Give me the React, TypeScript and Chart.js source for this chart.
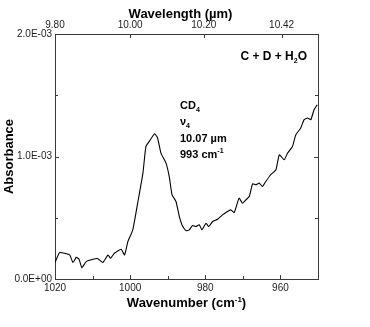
import React, { useEffect, useRef } from "react";
import { Chart, registerables } from "chart.js";

Chart.register(...registerables);

// ---- data ----
const wavenumbers = [
  1020.0, 1018.8, 1017.45, 1016.1, 1015.2, 1014.35, 1013.6, 1012.85, 1011.7, 1009.9,
  1008.6, 1007.3, 1005.9, 1005.2, 1004.2, 1002.4, 1001.5, 1000.6, 999.3, 998.0,
  996.6, 995.8, 994.9, 993.5, 992.7, 991.8, 990.45, 989.6, 988.85, 987.8,
  986.9, 986.0, 985.1, 984.25, 983.4, 982.5, 981.6, 980.9, 979.8, 979.1,
  978.05, 976.7, 975.4, 974.1, 973.2, 972.3, 971.0, 970.1, 969.2, 968.3,
  967.4, 966.5, 965.65, 964.8, 963.9, 962.6, 961.2, 960.3, 959.0, 958.1,
  956.8, 955.9, 954.6, 953.7, 952.8, 951.9, 951.05, 950.2,
];
const absorbance = [
  1.34e-4, 2.15e-4, 2.1e-4, 1.96e-4, 1.34e-4, 1.77e-4, 1.61e-4, 0.93e-4, 1.42e-4, 1.61e-4,
  1.66e-4, 1.34e-4, 1.96e-4, 1.69e-4, 2.1e-4, 2.43e-4, 1.96e-4, 3.05e-4, 4.01e-4, 6.19e-4,
  8.64e-4, 10.82e-4, 11.23e-4, 11.86e-4, 11.51e-4, 10.28e-4, 9.46e-4, 8.37e-4, 6.87e-4, 6.33e-4,
  5.1e-4, 4.28e-4, 3.95e-4, 4.01e-4, 4.36e-4, 4.28e-4, 4.42e-4, 4.01e-4, 4.55e-4, 4.28e-4,
  4.69e-4, 4.88e-4, 5.24e-4, 5.51e-4, 5.64e-4, 5.43e-4, 6.6e-4, 6.19e-4, 6.46e-4, 6.73e-4,
  7.77e-4, 7.69e-4, 7.83e-4, 7.55e-4, 7.96e-4, 8.51e-4, 8.92e-4, 10.14e-4, 9.73e-4, 10.28e-4,
  10.82e-4, 11.78e-4, 12.32e-4, 13.01e-4, 13.14e-4, 13.01e-4, 13.82e-4, 14.23e-4,
];

const xMin = 950;
const xMax = 1020;
const bottomTicks = [1020, 1010, 1000, 990, 980, 970, 960];
const bottomLabelled = [1020, 1000, 980, 960];
const wavelengthTicks = [9.8, 10.0, 10.2, 10.42];
const wavelengthLabels = ["9.80", "10.00", "10.20", "10.42"];
const yMin = 0;
const yMax = 0.002;
const yTicks = [0, 0.0005, 0.001, 0.0015, 0.002];
const yLabelValues = [0, 0.001, 0.002];
const yLabelTexts = ["0.0E+00", "1.0E-03", "2.0E-03"];

const FONT = "'Liberation Sans', Arial, Helvetica, sans-serif";
const AXIS = "#3a3a3a";

type Part = { t: string; sub?: boolean; sup?: boolean };

function richWidth(ctx: CanvasRenderingContext2D, parts: Part[], size: number) {
  let w = 0;
  for (const p of parts) {
    ctx.font = `bold ${p.sub || p.sup ? Math.round(size * 0.62) : size}px ${FONT}`;
    w += ctx.measureText(p.t).width;
  }
  return w;
}

function drawRich(
  ctx: CanvasRenderingContext2D,
  parts: Part[],
  x: number,
  y: number,
  size: number,
  align: "left" | "center" | "right"
) {
  const w = richWidth(ctx, parts, size);
  let cx = align === "left" ? x : align === "center" ? x - w / 2 : x - w;
  ctx.textBaseline = "alphabetic";
  ctx.textAlign = "left";
  for (const p of parts) {
    const small = p.sub || p.sup;
    ctx.font = `bold ${small ? Math.round(size * 0.62) : size}px ${FONT}`;
    const dy = p.sub ? size * 0.25 : p.sup ? -size * 0.42 : 0;
    ctx.fillText(p.t, cx, y + dy);
    cx += ctx.measureText(p.t).width;
  }
}

const framePlugin = {
  id: "frameAndText",
  afterDraw(chart: any) {
    const ctx: CanvasRenderingContext2D = chart.ctx;
    const a = chart.chartArea;
    const sx = chart.scales.x;
    const sy = chart.scales.y;
    ctx.save();
    ctx.strokeStyle = AXIS;
    ctx.lineWidth = 1;
    const line = (x1: number, y1: number, x2: number, y2: number) => {
      ctx.beginPath();
      ctx.moveTo(x1, y1);
      ctx.lineTo(x2, y2);
      ctx.stroke();
    };
    // inward tick marks
    bottomTicks.forEach((v) => {
      const px = Math.round(sx.getPixelForValue(v)) + 0.5;
      const len = bottomLabelled.includes(v) ? 4 : 3;
      line(px, a.bottom, px, a.bottom - len);
    });
    wavelengthTicks.forEach((w) => {
      const v = Math.min(xMax, 10000 / w);
      const px = Math.round(sx.getPixelForValue(v)) + 0.5;
      line(px, a.top, px, a.top + 4);
    });
    yTicks.forEach((v) => {
      const py = Math.round(sy.getPixelForValue(v)) + 0.5;
      const len = yLabelValues.includes(v) ? 4 : 3;
      line(a.left, py, a.left + len, py);
      line(a.right, py, a.right - len, py);
    });

    // axis titles
    ctx.fillStyle = "#000";
    const cxm = (a.left + a.right) / 2;
    drawRich(ctx, [{ t: "Wavelength (" }, { t: "\u00b5m)" }], cxm - 6, 18, 13, "center");
    drawRich(ctx, [{ t: "Wavenumber (cm" }, { t: "-1", sup: true }, { t: ")" }], cxm, 307, 13, "center");
    ctx.save();
    ctx.translate(13, (a.top + a.bottom) / 2);
    ctx.rotate(-Math.PI / 2);
    drawRich(ctx, [{ t: "Absorbance" }], 0, 0, 13, "center");
    ctx.restore();

    // annotations
    drawRich(ctx, [{ t: "C + D + H" }, { t: "2", sub: true }, { t: "O" }], a.right - 11, 60, 12, "right");
    const ax = 180;
    drawRich(ctx, [{ t: "CD" }, { t: "4", sub: true }], ax, 109, 11, "left");
    drawRich(ctx, [{ t: "\u03bd" }, { t: "4", sub: true }], ax, 125, 11, "left");
    drawRich(ctx, [{ t: "10.07 \u00b5m" }], ax, 142, 11, "left");
    drawRich(ctx, [{ t: "993 cm" }, { t: "-1", sup: true }], ax, 158, 11, "left");
    ctx.restore();
  },
};

export default function App() {
  const ref = useRef<HTMLCanvasElement | null>(null);
  useEffect(() => {
    if (!ref.current) return;
    const points = wavenumbers.map((x, i) => ({ x, y: absorbance[i] }));
    const tickFont = { family: FONT, size: 10 };
    const chart = new Chart(ref.current, {
      type: "line",
      data: {
        datasets: [
          {
            data: points,
            borderColor: "#000",
            borderWidth: 1.1,
            pointRadius: 0,
            tension: 0.15,
            fill: false,
            xAxisID: "x",
            yAxisID: "y",
          },
        ],
      },
      options: {
        animation: false,
        responsive: false,
        maintainAspectRatio: false,
        layout: { padding: 0 },
        plugins: { legend: { display: false }, tooltip: { enabled: false } },
        scales: {
          x: {
            type: "linear",
            position: "bottom",
            min: xMin,
            max: xMax,
            reverse: true,
            afterBuildTicks: (s: any) => {
              s.ticks = bottomLabelled.map((v) => ({ value: v }));
            },
            afterFit: (s: any) => {
              s.height = 48;
            },
            ticks: {
              font: tickFont,
              color: "#222",
              padding: 3,
              maxRotation: 0,
              autoSkip: false,
              callback: (v: any) => String(v),
            },
            grid: { display: true, drawOnChartArea: false, drawTicks: false },
            border: { display: true, color: AXIS, width: 1 },
          },
          x2: {
            type: "linear",
            position: "top",
            min: xMin,
            max: xMax,
            reverse: true,
            afterBuildTicks: (s: any) => {
              s.ticks = wavelengthTicks.map((w) => ({ value: Math.min(xMax, 10000 / w) }));
            },
            afterFit: (s: any) => {
              s.height = 34;
            },
            ticks: {
              font: tickFont,
              color: "#222",
              padding: 3,
              maxRotation: 0,
              autoSkip: false,
              callback: (_v: any, i: number) => wavelengthLabels[i],
            },
            grid: { display: true, drawOnChartArea: false, drawTicks: false },
            border: { display: true, color: AXIS, width: 1 },
          },
          y: {
            type: "linear",
            position: "left",
            min: yMin,
            max: yMax,
            afterBuildTicks: (s: any) => {
              s.ticks = yLabelValues.map((v) => ({ value: v }));
            },
            afterFit: (s: any) => {
              s.width = 55;
            },
            ticks: {
              font: tickFont,
              color: "#222",
              padding: 3,
              autoSkip: false,
              callback: (_v: any, i: number) => yLabelTexts[i],
            },
            grid: { display: true, drawOnChartArea: false, drawTicks: false },
            border: { display: true, color: AXIS, width: 1 },
          },
          y2: {
            type: "linear",
            position: "right",
            min: yMin,
            max: yMax,
            afterFit: (s: any) => {
              s.width = 52;
            },
            ticks: { display: false },
            grid: { display: true, drawOnChartArea: false, drawTicks: false },
            border: { display: true, color: AXIS, width: 1 },
          },
        },
      } as any,
      plugins: [framePlugin],
    });
    return () => chart.destroy();
  }, []);
  return (
    <div style={{ position: "fixed", left: 0, top: 0, width: 370, height: 327, background: "#fff" }}>
      <canvas ref={ref} width={370} height={327} style={{ width: 370, height: 327, display: "block" }} />
    </div>
  );
}
